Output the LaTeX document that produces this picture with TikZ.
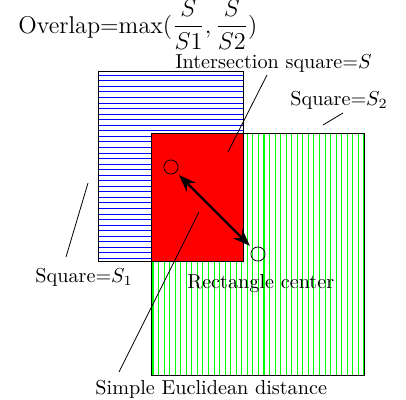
\documentclass[tikz,border=0pt]{standalone}
\usepackage{amsmath,amssymb}
\usepackage{tikz}
\usetikzlibrary{arrows.meta}

\begin{document}
\begin{tikzpicture}[x=0.495pt,y=-0.495pt,
    lbl/.style={inner sep=0pt, anchor=base west},
    hatch/.style={line width=0.5pt},
    ctr/.style={draw, circle, minimum size=7pt, inner sep=0pt}]
    \useasboundingbox (0,0) rectangle (406,399);

    % Squares
    \foreach \x in {153,158.55,...,364} \draw[hatch, green] (\x,133) -- (\x,375);
    \draw (151,133) rectangle (364,375);
    \fill[white] (98,71) rectangle (243,261);
    \foreach \y in {75.3,80.85,...,261} \draw[hatch, blue] (98,\y) -- (243,\y);
    \draw (98,71) rectangle (243,261);
    \draw[fill=red] (151,133) rectangle (243,261);

    % Rectangle centers and distance
    \node[ctr] (c1) at (171,167) {};
    \node[ctr] (c2) at (258,254) {};
    \draw[{Stealth[]}-{Stealth[]}, very thick, shorten <=2pt, shorten >=2pt] (c1) -- (c2);

    % Labels
    \node[lbl] (ovl) at (18,33) {\large Overlap=$\max(\dfrac{S}{S1},\dfrac{S}{S2})$};
    \node[lbl] (isq) at (175,68) {Intersection square=$S$};
    \node[lbl] (sq2) at (290,105) {Square=$S_2$};
    \node[lbl] (sq1) at (35,282) {Square=$S_1$};
    \node[lbl] (rc) at (187,288) {Rectangle center};
    \node[lbl] (ed) at (95,394) {Simple Euclidean distance};

    % Pointers
    \coordinate (isqa) at (267,75);  \coordinate (isqb) at (228,152);
    \coordinate (sq2a) at (343,113); \coordinate (sq2b) at (323,125);
    \coordinate (sq1a) at (88,183);  \coordinate (sq1b) at (66,257);
    \coordinate (eda) at (199,212);  \coordinate (edb) at (119,372);
    \draw (isqa) -- (isqb);
    \draw (sq2a) -- (sq2b);
    \draw (sq1a) -- (sq1b);
    \draw (eda) -- (edb);
\end{tikzpicture}
\end{document}
